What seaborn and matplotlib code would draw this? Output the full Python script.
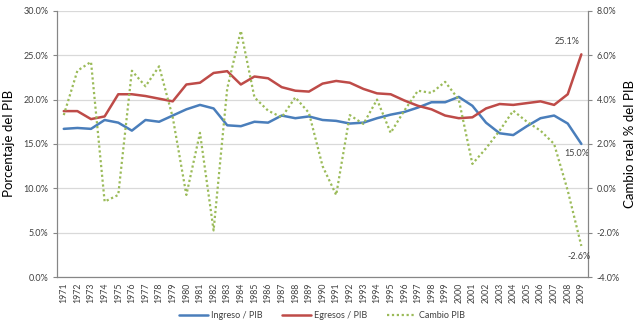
import matplotlib
matplotlib.use("Agg")
import matplotlib.pyplot as plt
import seaborn as sns
import numpy as np
import pandas as pd
from matplotlib.ticker import FuncFormatter, MultipleLocator, FixedLocator

years = list(range(1971, 2010))
ingreso = [16.7, 16.8, 16.7, 17.7, 17.4, 16.5, 17.7, 17.5, 18.2, 18.9,
           19.4, 19.0, 17.1, 17.0, 17.5, 17.4, 18.2, 17.9, 18.1, 17.7,
           17.6, 17.3, 17.4, 17.9, 18.3, 18.6, 19.1, 19.7, 19.7, 20.3,
           19.3, 17.4, 16.2, 16.0, 17.0, 17.9, 18.2, 17.3, 15.0]
egresos = [18.7, 18.7, 17.8, 18.1, 20.6, 20.6, 20.4, 20.1, 19.8, 21.7,
           21.9, 23.0, 23.2, 21.7, 22.6, 22.4, 21.4, 21.0, 20.9, 21.8,
           22.1, 21.9, 21.2, 20.7, 20.6, 19.9, 19.3, 18.9, 18.2, 17.9,
           18.0, 19.0, 19.5, 19.4, 19.6, 19.8, 19.4, 20.6, 25.1]
cambio = [3.3, 5.3, 5.7, -0.6, -0.3, 5.3, 4.6, 5.5, 3.2, -0.3,
          2.5, -1.9, 4.5, 7.1, 4.1, 3.5, 3.2, 4.1, 3.4, 1.0,
          -0.3, 3.3, 2.9, 4.0, 2.5, 3.5, 4.4, 4.3, 4.8, 4.0,
          1.1, 1.8, 2.6, 3.5, 3.0, 2.6, 2.0, -0.1, -2.6]

df = pd.DataFrame({"year": years, "ingreso": ingreso,
                   "egresos": egresos, "cambio": cambio})

sns.set_style("white")
plt.rcParams['font.family'] = ['Lato', 'DejaVu Sans']

blue = "#4A7EBB"
red = "#BE4B48"
green = "#9BBB59"
axis_gray = "#868686"
grid_gray = "#D9D9D9"
text_col = "#404040"

fig = plt.figure(figsize=(6.4, 3.29), dpi=100)
ax = fig.add_axes([0.089, 0.158, 0.830, 0.809])
ax2 = ax.twinx()

sns.lineplot(data=df, x="year", y="ingreso", ax=ax, color=blue, lw=1.8,
             label="Ingreso / PIB", legend=False)
sns.lineplot(data=df, x="year", y="egresos", ax=ax, color=red, lw=1.8,
             label="Egresos / PIB", legend=False)
sns.lineplot(data=df, x="year", y="cambio", ax=ax2, color=green, lw=1.6,
             linestyle=(0, (1, 1.2)), label="Cambio PIB", legend=False)

ax.set_xlim(1970.5, 2009.5)
ax.set_ylim(0, 30)
ax2.set_ylim(-4, 8)
ax.yaxis.set_major_locator(MultipleLocator(5))
ax2.yaxis.set_major_locator(MultipleLocator(2))
ax.yaxis.set_major_formatter(FuncFormatter(lambda v, p: f"{v:.1f}%"))
ax2.yaxis.set_major_formatter(FuncFormatter(lambda v, p: f"{v:.1f}%"))

ax.set_xticks(years)
ax.set_xticklabels([str(y) for y in years], rotation=90, fontsize=6.3, color=text_col)
ax.xaxis.set_minor_locator(FixedLocator(np.arange(1970.5, 2010.0, 1.0)))
ax.tick_params(axis='x', which='major', length=0, pad=4)
ax.tick_params(axis='x', which='minor', length=3, color=axis_gray, direction='out')
ax.tick_params(axis='y', length=3, color=axis_gray, labelsize=6.5, labelcolor=text_col, pad=3)
ax2.tick_params(axis='y', length=3, color=axis_gray, labelsize=6.5, labelcolor=text_col, pad=3)

ax.grid(axis='y', color=grid_gray, lw=0.9)
ax.set_axisbelow(True)
for a in (ax, ax2):
    a.spines["top"].set_visible(False)
    a.spines["left"].set_color(axis_gray)
    a.spines["right"].set_color(axis_gray)
    a.spines["bottom"].set_color(axis_gray)
ax2.spines["right"].set_visible(True)

ax.set_xlabel("")
ax.set_ylabel("Porcentaje del PIB", fontsize=9.5, color="black", labelpad=6)
ax2.set_ylabel("Cambio real % del PIB", fontsize=9.5, color="black", labelpad=3)

ax.annotate(f"{egresos[-1]:.1f}%", (years[-1], egresos[-1]), xytext=(-10, 6),
            textcoords="offset points", fontsize=6.5, color=text_col, ha="center", va="bottom")
ax.annotate(f"{ingreso[-1]:.1f}%", (years[-1], ingreso[-1]), xytext=(-3, -4),
            textcoords="offset points", fontsize=6.5, color=text_col, ha="center", va="top")
ax2.annotate(f"{cambio[-1]:.1f}%", (years[-1], cambio[-1]), xytext=(-2, -4),
             textcoords="offset points", fontsize=6.5, color=text_col, ha="center", va="top")

h1, l1 = ax.get_legend_handles_labels()
h2, l2 = ax2.get_legend_handles_labels()
fig.legend(h1 + h2, l1 + l2, loc="center", bbox_to_anchor=(0.503, 0.04), ncol=3,
           frameon=False, fontsize=6.5, handlelength=3.2, columnspacing=2.2,
           handletextpad=0.3, labelcolor=text_col)

fig.savefig("out.png", dpi=100)
